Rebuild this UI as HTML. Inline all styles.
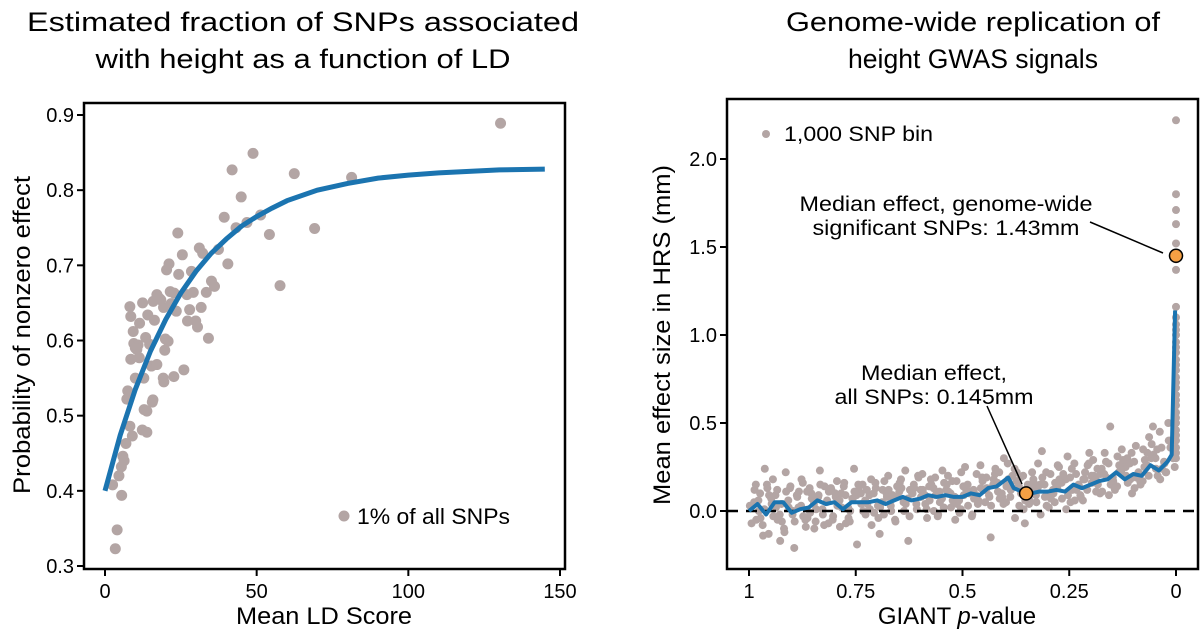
<!DOCTYPE html>
<html><head><meta charset="utf-8">
<style>
html,body{margin:0;padding:0;background:#fff;}
svg{display:block;font-family:"Liberation Sans",sans-serif;}
</style></head>
<body>
<svg id="fig" width="1200" height="634" viewBox="0 0 1200 634" xmlns="http://www.w3.org/2000/svg">
<g font-size="27" text-anchor="middle" fill="#000">
<text x="303" y="31" textLength="552" lengthAdjust="spacingAndGlyphs">Estimated fraction of SNPs associated</text>
<text x="303" y="68" textLength="415" lengthAdjust="spacingAndGlyphs">with height as a function of LD</text>
</g>
<g font-size="27" text-anchor="middle" fill="#000">
<text x="973" y="31" textLength="374" lengthAdjust="spacingAndGlyphs">Genome-wide replication of</text>
<text x="973" y="68" textLength="250" lengthAdjust="spacingAndGlyphs">height GWAS signals</text>
</g>
<g id="left"></g>
<g id="right"></g>
</svg>
<script>
// ---------- LEFT CHART DATA ----------
const ldX = [130.4,48.8,41.9,62.4,81.3,44.9,39.3,51.3,43.2,46.8,69.1,54.2,24.0,31.1,25.5,37.4,32.2,40.5,21.1,20.3,24.3,28.5,35.1,36.1,57.7,21.5,22.8,29.1,33.4,27.0,17.1,17.9,15.9,12.4,8.2,19.3,23.5,27.9,31.7,14.1,8.5,16.3,29.9,27.2,30.5,11.4,9.3,34.1,19.9,20.8,9.5,10.9,14.7,10.5,19.7,11.3,8.5,15.3,17.1,26.0,22.7,19.2,19.4,12.8,10.0,7.5,7.2,15.8,15.6,12.9,13.8,12.3,13.8,9.0,6.9,5.9,6.3,5.4,4.6,2.5,5.5,4.0,3.4,8.2,10.0,13.4,18.4,21.8];
const ldY = [.889,.849,.827,.822,.817,.791,.764,.767,.750,.757,.749,.741,.743,.723,.714,.721,.716,.702,.702,.694,.688,.692,.679,.672,.673,.665,.663,.664,.664,.661,.661,.656,.652,.650,.645,.644,.639,.641,.644,.634,.632,.627,.626,.626,.618,.623,.612,.603,.602,.599,.596,.594,.595,.588,.587,.577,.575,.566,.568,.561,.552,.550,.545,.550,.550,.533,.522,.521,.518,.508,.506,.481,.478,.473,.463,.446,.440,.432,.420,.408,.394,.348,.323,.486,.590,.604,.654,.649];
const fitX = [0,5,10,15,20,25,30,35,40,45,50,55,60,70,80,90,100,110,120,130,145];
const fitY = [.400,.474,.535,.586,.628,.663,.692,.716,.735,.752,.765,.776,.786,.800,.809,.816,.820,.823,.825,.827,.828];
const leftXTicks = [0,50,100,150];
const leftYTicks = [0.3,0.4,0.5,0.6,0.7,0.8,0.9];

// ---------- RIGHT CHART DATA ----------
const binP1 = [0.99,0.97,0.95,0.93,0.91,0.89,0.87,0.85,0.83,0.81,0.79,0.77,0.75,0.73,0.71,0.69,0.67,0.65,0.63,0.61,0.59,0.57,0.55,0.53,0.51,0.49,0.47,0.45,0.43,0.41,0.39,0.37,0.35,0.33,0.31,0.29,0.27,0.25,0.23,0.21,0.19,0.17,0.15,0.13,0.11,0.09,0.07,0.05,0.03,0.01];
const binV1 = [[-.07,.12,.03,-.05],[.10,-.14,.06,.24],[-.13,.04,.15,-.03],[.12,-.17,.09,-.06],[.22,.02,-.10,.14],[-.21,.08,-.02,.11],[.16,-.09,.03,-.04],[.10,-.10,.13,.01],[.23,-.02,.08,.14],[-.07,.12,.05,-.03],[.17,-.09,.10,.02],[.09,-.04,.14,.00],[.24,-.19,.07,.12],[.15,-.02,.10,.04],[.18,-.01,.09,.13],[-.13,.12,.03,.17],[.20,.00,.10,.07],[.08,.16,-.05,.13],[.23,-.17,.05,.12],[.15,.01,.10,.19],[.21,.04,.12,-.04],[.18,.00,.14,.09],[.11,.23,-.03,.16],[.20,.02,.12,.06],[.17,-.01,.08,.22],[.25,.03,.14,.10],[.12,.21,-.03,.06],[.19,.05,.26,.13],[-.15,.18,.09,.24],[.22,.08,.16,.30],[.27,.12,.05,.20],[.17,.03,.24,.10],[-.07,.15,.20,.06],[.18,.05,.12,.27],[.34,.08,.15,.03],[.21,.10,.02,.16],[.25,.07,.13,.19],[.31,.05,.18,.12],[.21,.14,.27,.08],[.18,.26,.06,.33],[.29,.11,.20,.15],[.24,.33,.10,.19],[.48,.17,.27,.12],[.22,.35,.14,.28],[.30,.18,.25,.10],[.37,.20,.28,.15],[.25,.33,.17,.42],[.48,.24,.30,.20],[.36,.27,.45,.22],[.40,.30,.50,.25]];
const binP2 = [0.98,0.96,0.94,0.92,0.90,0.88,0.86,0.84,0.82,0.80,0.78,0.76,0.74,0.72,0.70,0.68,0.66,0.64,0.62,0.60,0.58,0.56,0.54,0.52,0.50,0.48,0.46,0.44,0.42,0.40,0.38,0.36,0.34,0.32,0.30,0.28,0.26,0.24,0.22,0.20,0.18,0.16,0.14,0.12,0.10,0.08,0.06,0.04,0.02];
const binV2 = [[.05,-.04,.15,.00],[-.08,.09,.01,.13],[.07,-.05,.18,.02],[-.02,.11,.04,-.12],[.06,-.06,.13,.00],[.09,-.03,.02,.18],[-.05,.07,.11,-.01],[.04,.15,-.06,.09],[.01,.11,-.08,.06],[.13,.03,-.05,.08],[.06,-.07,.10,.16],[.02,.11,-.06,.07],[.09,.00,.15,.04],[.06,-.08,.12,.01],[.10,.02,.16,-.04],[.05,.12,-.02,.08],[.03,.14,.09,-.06],[.11,.04,.18,.00],[.07,.13,-.03,.10],[.04,.12,.20,.08],[.09,.15,.01,.06],[.13,.05,.19,-.02],[.07,.11,.02,.15],[.10,.04,.17,-.05],[.06,.13,.01,.09],[.15,.07,.11,-.02],[.09,.17,.04,.13],[.12,.03,.19,.08],[.15,.07,.21,.11],[.10,.18,.04,.14],[.08,.22,.13,-.04],[.14,.06,.19,.01],[.11,.16,.04,.22],[.09,.19,.13,-.02],[.15,.07,.22,.10],[.12,.18,.05,.26],[.16,.09,.21,.01],[.19,.12,.24,.06],[.15,.22,.09,.18],[.12,.20,.27,.16],[.18,.11,.24,.21],[.21,.15,.28,.09],[.19,.26,.13,.31],[.23,.16,.29,.20],[.27,.19,.33,.13],[.22,.29,.17,.35],[.26,.32,.20,.38],[.30,.24,.35,.18],[.28,.36,.22,.40]];
const topBinV = [.30,.33,.36,.40,.43,.46,.50,.53,.56,.60,.63,.66,.70,.73,.76,.80,.83,.86,.90,.93,.96,1.0,1.03,1.06,1.1,1.16,1.37,1.43,1.52,1.63,1.71,1.80,2.22];
const lineP = [1,0.98,0.96,0.94,0.92,0.90,0.88,0.86,0.84,0.82,0.80,0.78,0.76,0.74,0.72,0.70,0.68,0.66,0.64,0.62,0.60,0.58,0.56,0.54,0.52,0.50,0.48,0.46,0.44,0.42,0.393,0.38,0.351,0.34,0.32,0.30,0.28,0.26,0.24,0.22,0.20,0.18,0.16,0.14,0.12,0.10,0.08,0.06,0.04,0.02,0.01,0.002];
const lineV = [0.0,.04,-.02,.05,.05,-.01,.01,.02,.06,.04,.05,.01,.05,.05,.05,.06,.04,.06,.08,.06,.07,.09,.08,.09,.08,.08,.10,.09,.13,.14,.19,.13,.10,.10,.11,.11,.12,.11,.15,.13,.15,.17,.18,.22,.18,.21,.20,.26,.23,.28,.32,1.14];
const medianP = [0.351, 0.0];
const medianV = [0.10, 1.45];
const rightXTicks = [1,0.75,0.5,0.25,0];
const rightXLabels = ["1","0.75","0.5","0.25","0"];
const rightYTicks = [0,0.5,1,1.5,2];
const rightYLabels = ["0.0","0.5","1.0","1.5","2.0"];

const NS = "http://www.w3.org/2000/svg";
function mk(parent, tag, attrs, text){
  const el = document.createElementNS(NS, tag);
  for (const k in attrs) el.setAttribute(k, attrs[k]);
  if (text !== undefined) el.textContent = text;
  parent.appendChild(el);
  return el;
}
const DOT = "#b3a5a4", BLUE = "#1b74b0";
const TICKFS = 20;

// ---------- LEFT ----------
(function(){
  const g = document.getElementById('left');
  const sx = v => 105 + v * (455/150);
  const sy = v => 566 - (v - 0.3) * (451/0.6);
  const box = mk(g,'rect',{x:84,y:103,width:481,height:466,fill:'none',stroke:'#000','stroke-width':2.5});
  
  
  leftXTicks.forEach(t=>{
    const l = mk(g,'line',{x1:sx(t),x2:sx(t),y1:569,y2:576,stroke:'#000','stroke-width':2});
    
    
    const tx = mk(g,'text',{x:sx(t),y:598,'font-size':TICKFS,'text-anchor':'middle'},String(t));
    
    
  });
  leftYTicks.forEach(t=>{
    const l = mk(g,'line',{x1:77,x2:84,y1:sy(t),y2:sy(t),stroke:'#000','stroke-width':2});
    
    
    const tx = mk(g,'text',{x:74,y:sy(t)+7,'font-size':TICKFS,'text-anchor':'end'},t.toFixed(1));
    
    
  });
  ldX.forEach((x,i)=>{
    const c = mk(g,'circle',{cx:sx(x),cy:sy(ldY[i]),r:5.5,fill:DOT});
    
    
  });
  const d = fitX.map((x,i)=>(i?'L':'M')+sx(x).toFixed(1)+','+sy(fitY[i]).toFixed(1)).join('');
  const p = mk(g,'path',{d:d,fill:'none',stroke:BLUE,'stroke-width':5});
  
  
  const ld = mk(g,'circle',{cx:344,cy:516,r:5.5,fill:DOT});
  
  
  const lt = mk(g,'text',{x:357,y:524,'font-size':22,textLength:153,lengthAdjust:'spacingAndGlyphs'},'1% of all SNPs');
  
  
  const xt = mk(g,'text',{x:324,y:624,'font-size':24,'text-anchor':'middle',textLength:176,lengthAdjust:'spacingAndGlyphs'},'Mean LD Score');
  
  
  const yt = mk(g,'text',{x:0,y:0,'font-size':24,'text-anchor':'middle',textLength:318,lengthAdjust:'spacingAndGlyphs',transform:'translate(30,335) rotate(-90)'},'Probability of nonzero effect');
  
  
})();

// ---------- RIGHT ----------
(function(){
  const g = document.getElementById('right');
  const sx = p => 1176 - p * 427;
  const sy = v => 511 - v * 176;
  rightXTicks.forEach((t,i)=>{
    const l = mk(g,'line',{x1:sx(t),x2:sx(t),y1:569,y2:576,stroke:'#000','stroke-width':2});
    
    
    const tx = mk(g,'text',{x:sx(t),y:598,'font-size':TICKFS,'text-anchor':'middle'},rightXLabels[i]);
    
    
  });
  rightYTicks.forEach((t,i)=>{
    const l = mk(g,'line',{x1:720,x2:727,y1:sy(t),y2:sy(t),stroke:'#000','stroke-width':2});
    
    
    const tx = mk(g,'text',{x:717,y:sy(t)+7,'font-size':TICKFS,'text-anchor':'end'},rightYLabels[i]);
    
    
  });
  const offs = [0.004,-0.003,0.008,-0.007];
  binP1.forEach((p,i)=>binV1[i].forEach((v,j)=>{
    const c = mk(g,'circle',{cx:sx(p+offs[j]),cy:sy(v),r:4,fill:DOT});
    
    
  }));
  binP2.forEach((p,i)=>binV2[i].forEach((v,j)=>{
    const c = mk(g,'circle',{cx:sx(p+offs[(j+2)%4]),cy:sy(v),r:4,fill:DOT});
    
    
  }));
  topBinV.forEach(v=>{
    const c = mk(g,'circle',{cx:sx(0),cy:sy(v),r:4,fill:DOT});
    
    
  });
  const z = mk(g,'line',{x1:727,x2:1198,y1:sy(0),y2:sy(0),stroke:'#000','stroke-width':2.5,'stroke-dasharray':'11,8'});
  
  
  const d = lineP.map((p,i)=>(i?'L':'M')+sx(p).toFixed(1)+','+sy(lineV[i]).toFixed(1)).join('');
  const pl = mk(g,'path',{d:d,fill:'none',stroke:BLUE,'stroke-width':4,'stroke-linejoin':'round'});
  
  
  const a1 = mk(g,'line',{x1:1090,y1:222,x2:1163,y2:253,stroke:'#000','stroke-width':1.5});
  
  
  const a2 = mk(g,'line',{x1:987,y1:406,x2:1022,y2:484,stroke:'#000','stroke-width':1.5});
  
  
  medianP.forEach((p,i)=>{
    const c = mk(g,'circle',{cx:sx(p),cy:sy(medianV[i]),r:6.5,fill:'#f5a044',stroke:'#000','stroke-width':1.5});
    
    
  });
  const t1 = mk(g,'text',{x:946,y:211,'font-size':21,'text-anchor':'middle',textLength:293,lengthAdjust:'spacingAndGlyphs'},'Median effect, genome-wide');
  
  
  const t2 = mk(g,'text',{x:946,y:235,'font-size':21,'text-anchor':'middle',textLength:267,lengthAdjust:'spacingAndGlyphs'},'significant SNPs: 1.43mm');
  
  
  const t3 = mk(g,'text',{x:934,y:380,'font-size':21,'text-anchor':'middle',textLength:146,lengthAdjust:'spacingAndGlyphs'},'Median effect,');
  
  
  const t4 = mk(g,'text',{x:934,y:404,'font-size':21,'text-anchor':'middle',textLength:199,lengthAdjust:'spacingAndGlyphs'},'all SNPs: 0.145mm');
  
  
  const ld = mk(g,'circle',{cx:766,cy:134,r:4,fill:DOT});
  
  
  const lt = mk(g,'text',{x:784,y:141,'font-size':21,textLength:149,lengthAdjust:'spacingAndGlyphs'},'1,000 SNP bin');
  
  
  const box = mk(g,'rect',{x:727,y:99,width:471,height:470,fill:'none',stroke:'#000','stroke-width':2.5});
  
  
  const xt = mk(g,'text',{x:957,y:624,'font-size':24,'text-anchor':'middle'});
  
  
  mk(xt,'tspan',{},'GIANT ');
  mk(xt,'tspan',{'font-style':'italic'},'p');
  mk(xt,'tspan',{},'-value');
  const yt = mk(g,'text',{x:0,y:0,'font-size':24,'text-anchor':'middle',textLength:340,lengthAdjust:'spacingAndGlyphs',transform:'translate(670,335) rotate(-90)'},'Mean effect size in HRS (mm)');
  
  
})();
</script>
</body></html>
